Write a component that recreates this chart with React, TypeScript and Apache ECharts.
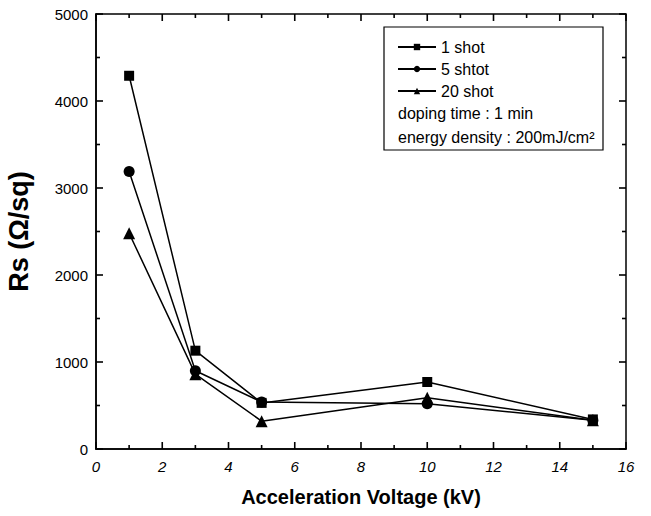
import React, { useEffect, useRef } from "react";
import * as echarts from "echarts";

const voltages = [1, 3, 5, 10, 15];
const oneShot = [4290, 1130, 530, 770, 340];
const fiveShot = [3190, 900, 540, 520, 330];
const twentyShot = [2480, 860, 320, 590, 330];
const seriesNames = ["1 shot", "5 shtot", "20 shot"];
const extraLegend = ["doping time : 1 min", "energy density : 200mJ/cm²"];
const xTickValues = [0, 1, 2, 3, 4, 5, 6, 7, 8, 9, 10, 11, 12, 13, 14, 15, 16];
const yTickValues = [0, 500, 1000, 1500, 2000, 2500, 3000, 3500, 4000, 4500, 5000];

const FONT = "'Liberation Sans', Arial, sans-serif";
const X_MIN = 0, X_MAX = 16, Y_MIN = 0, Y_MAX = 5000;

export default function App() {
  const ref = useRef<HTMLDivElement>(null);
  useEffect(() => {
    if (!ref.current) return;
    const chart = echarts.init(ref.current, undefined, { renderer: "svg" });
    const mk = (vals: number[]) => voltages.map((v, i) => [v, vals[i]]);

    const lineSeries = (name: string, vals: number[], symbol: string, size: number) => ({
      type: "line",
      name,
      data: mk(vals),
      symbol,
      symbolSize: size,
      lineStyle: { color: "#000", width: 1.5 },
      itemStyle: { color: "#000" },
      z: 3,
    });

    const TW = 1.6;
    const tickFill = { fill: "#000" };

    const xTickSeries = {
      type: "custom",
      name: "xticks",
      silent: true,
      clip: false,
      z: 6,
      data: xTickValues.map((v) => [v, Y_MIN]),
      encode: { x: 0, y: 1 },
      renderItem: (params: any, api: any) => {
        const v = api.value(0);
        const major = v % 2 === 0;
        const len = major ? 7 : 4;
        const b = api.coord([v, Y_MIN]);
        const t = api.coord([v, Y_MAX]);
        return {
          type: "group",
          children: [
            { type: "rect", shape: { x: b[0] - TW / 2, y: b[1] - len, width: TW, height: len }, style: tickFill },
            { type: "rect", shape: { x: t[0] - TW / 2, y: t[1], width: TW, height: len }, style: tickFill },
          ],
        };
      },
    };

    const yTickSeries = {
      type: "custom",
      name: "yticks",
      silent: true,
      clip: false,
      z: 6,
      data: yTickValues.map((v) => [X_MIN, v]),
      encode: { x: 0, y: 1 },
      renderItem: (params: any, api: any) => {
        const v = api.value(1);
        const major = v % 1000 === 0;
        const len = major ? 7 : 4;
        const l = api.coord([X_MIN, v]);
        const r = api.coord([X_MAX, v]);
        return {
          type: "group",
          children: [
            { type: "rect", shape: { x: l[0], y: l[1] - TW / 2, width: len, height: TW }, style: tickFill },
            { type: "rect", shape: { x: r[0] - len, y: r[1] - TW / 2, width: len, height: TW }, style: tickFill },
          ],
        };
      },
    };

    chart.setOption({
      animation: false,
      backgroundColor: "#fff",
      textStyle: { fontFamily: FONT },
      grid: {
        left: 96,
        top: 14,
        right: 25,
        bottom: 67,
        containLabel: false,
        outerBoundsMode: "none",
        show: true,
        borderColor: "#000",
        borderWidth: 1.5,
        backgroundColor: "transparent",
      },
      legend: {
        orient: "vertical",
        left: 397,
        top: 38,
        padding: 0,
        itemWidth: 38,
        itemHeight: 8,
        itemGap: 4,
        data: seriesNames,
        textStyle: { fontFamily: FONT, fontSize: 16, color: "#000", lineHeight: 18 },
      },
      xAxis: {
        type: "value",
        min: X_MIN,
        max: X_MAX,
        interval: 2,
        position: "bottom",
        name: "Acceleration Voltage (kV)",
        nameLocation: "middle",
        nameGap: 38,
        nameTextStyle: { fontFamily: FONT, fontSize: 20, fontWeight: "bold", color: "#000" },
        axisLine: { show: true, onZero: false, lineStyle: { color: "#000", width: 1.5 } },
        axisTick: { show: false },
        splitLine: { show: false },
        axisLabel: { fontFamily: FONT, fontSize: 15, fontStyle: "italic", color: "#000", margin: 10 },
      },
      yAxis: {
        type: "value",
        min: Y_MIN,
        max: Y_MAX,
        interval: 1000,
        position: "left",
        name: "Rs (Ω/sq)",
        nameLocation: "middle",
        nameGap: 64,
        nameRotate: 90,
        nameTextStyle: { fontFamily: FONT, fontSize: 27, fontWeight: "bold", color: "#000" },
        axisLine: { show: true, onZero: false, lineStyle: { color: "#000", width: 1.5 } },
        axisTick: { show: false },
        splitLine: { show: false },
        axisLabel: {
          fontFamily: FONT,
          fontSize: 15,
          color: "#000",
          margin: 8,
          formatter: (v: number) => String(v),
        },
      },
      series: [
        lineSeries(seriesNames[0], oneShot, "rect", 10),
        lineSeries(seriesNames[1], fiveShot, "circle", 11),
        lineSeries(seriesNames[2], twentyShot, "triangle", 12),
        xTickSeries,
        yTickSeries,
      ],
      graphic: [
        {
          type: "rect",
          shape: { x: 384, y: 27, width: 219, height: 123 },
          style: { fill: "none", stroke: "#000", lineWidth: 1.2 },
          z: 10,
        },
        {
          type: "text",
          x: 398,
          y: 113,
          style: { text: extraLegend[0], font: `16px ${FONT}`, fill: "#000", verticalAlign: "middle" },
          z: 10,
        },
        {
          type: "text",
          x: 398,
          y: 137,
          style: { text: extraLegend[1], font: `16px ${FONT}`, fill: "#000", verticalAlign: "middle" },
          z: 10,
        },
      ],
    });
    return () => chart.dispose();
  }, []);
  return (
    <div
      ref={ref}
      style={{ position: "absolute", left: 0, top: 0, width: 651, height: 516, background: "#fff" }}
    />
  );
}
